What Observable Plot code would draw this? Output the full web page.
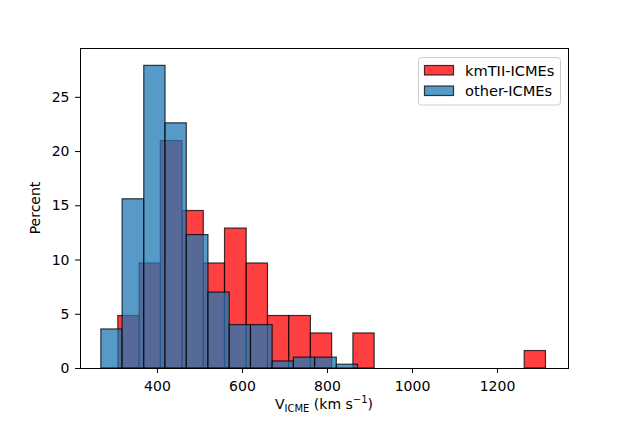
<!DOCTYPE html>
<html>
<head>
<meta charset="utf-8">
<script src="https://cdn.jsdelivr.net/npm/d3@7"></script>
<script src="https://cdn.jsdelivr.net/npm/@observablehq/plot@0.6"></script>
<style>
  html, body { margin: 0; padding: 0; background: #fff; }
  #chart { width: 631px; height: 421px; }
</style>
</head>
<body>
<div id="chart"></div>
<script>
// Bin edges (km/s) for each series
const redBinEdges = [308, 358, 408, 459, 509, 559, 610, 660, 710, 761, 811, 861, 911, 962, 1012, 1062, 1113, 1163, 1213, 1264, 1314];
const blueBinEdges = [268, 318, 369, 419, 469, 520, 570, 620, 671, 721, 771, 822, 872];
// Percent per bin
const redPercent = [4.84, 9.68, 20.97, 14.52, 9.68, 12.90, 9.68, 4.84, 4.84, 3.23, 0, 3.23, 0, 0, 0, 0, 0, 0, 0, 1.61];
const bluePercent = [3.6, 15.6, 27.9, 22.6, 12.3, 7.0, 4.0, 4.0, 0.65, 1.0, 1.0, 0.35];
// Axis ticks
const xTicks = [400, 600, 800, 1000, 1200];
const yTicks = [0, 5, 10, 15, 20, 25];
const seriesNames = ["kmTII-ICMEs", "other-ICMEs"];
const seriesColors = ["red", "#1f77b4"];

const toBins = (edges, vals) => vals.map((v, i) => ({x1: edges[i], x2: edges[i + 1], y: v}));
const redBins = toBins(redBinEdges, redPercent);
const blueBins = toBins(blueBinEdges, bluePercent);

const W = 631, H = 421;
const mL = 80, mR = 63, mT = 48, mB = 53;
const font = "DejaVu Sans, sans-serif";

const plot = Plot.plot({
  width: W, height: H,
  marginLeft: mL, marginRight: mR, marginTop: mT, marginBottom: mB,
  style: {fontFamily: font, fontSize: "14px", color: "black", background: "white"},
  x: {domain: [219, 1367], label: null},
  y: {domain: [0, 29.5], label: null},
  marks: [
    Plot.rectY(redBins, {x1: "x1", x2: "x2", y: "y", inset: 0, fill: seriesColors[0], fillOpacity: 0.75, stroke: "black", strokeOpacity: 0.75, strokeWidth: 1.2}),
    Plot.rectY(blueBins, {x1: "x1", x2: "x2", y: "y", inset: 0, fill: seriesColors[1], fillOpacity: 0.75, stroke: "black", strokeOpacity: 0.75, strokeWidth: 1.2}),
    Plot.frame({stroke: "black", strokeWidth: 1}),
    Plot.axisX({ticks: xTicks, tickSize: 5, tickPadding: 8, label: null, tickFormat: d => String(d), fontSize: 14}),
    Plot.axisY({ticks: yTicks, tickSize: 5, tickPadding: 6, label: null, tickFormat: d => String(d), fontSize: 14})
  ]
});
document.getElementById("chart").appendChild(plot);

const svg = d3.select(plot);
// y label
svg.append("text")
  .attr("transform", `translate(36,${(mT + H - mB) / 2}) rotate(-90)`)
  .attr("text-anchor", "middle")
  .attr("dominant-baseline", "middle")
  .attr("font-family", font).attr("font-size", 14).attr("fill", "black")
  .text("Percent");
// x label with subscript / superscript
const xl = svg.append("text")
  .attr("x", (mL + W - mR) / 2).attr("y", 409)
  .attr("text-anchor", "middle")
  .attr("font-family", font).attr("font-size", 14).attr("fill", "black");
xl.append("tspan").text("V");
xl.append("tspan").attr("font-size", 10).attr("dy", 3).text("ICME");
xl.append("tspan").attr("dy", -3).text(" (km s");
xl.append("tspan").attr("font-size", 10).attr("dy", -6).text("\u22121");
xl.append("tspan").attr("dy", 6).text(")");

// legend
const lg = svg.append("g");
lg.append("rect").attr("x", 418.5).attr("y", 57.5).attr("width", 142).attr("height", 47.5)
  .attr("rx", 3).attr("fill", "white").attr("fill-opacity", 0.8).attr("stroke", "#cccccc");
seriesNames.forEach((name, i) => {
  const cy = 70 + i * 20.5;
  lg.append("rect").attr("x", 424.5).attr("y", cy - 4.5).attr("width", 29).attr("height", 9.5)
    .attr("fill", seriesColors[i]).attr("fill-opacity", 0.75)
    .attr("stroke", "black").attr("stroke-opacity", 0.75).attr("stroke-width", 1.2);
  lg.append("text").attr("x", 465).attr("y", cy).attr("dominant-baseline", "central")
    .attr("text-anchor", "start")
    .attr("font-family", font).attr("font-size", 14.6).attr("fill", "black").text(name);
});
</script>
</body>
</html>
